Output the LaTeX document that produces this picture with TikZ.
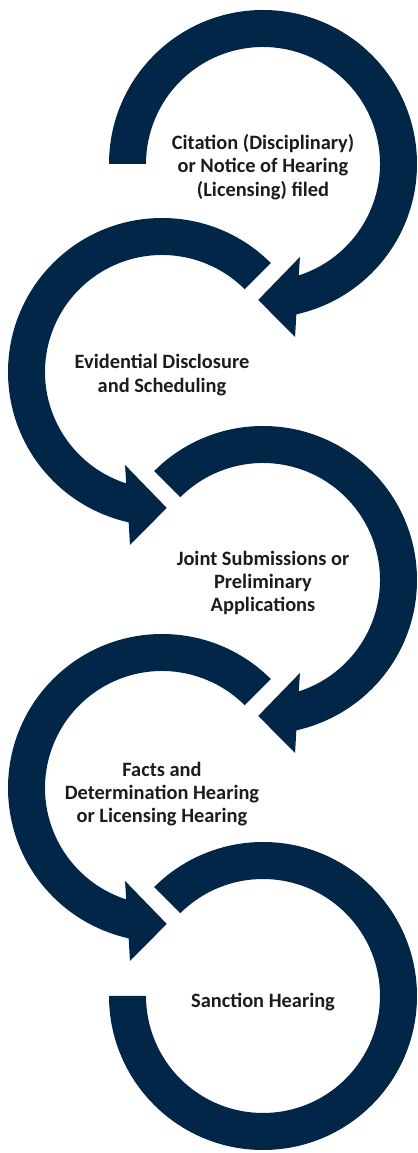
\documentclass[tikz,border=0pt]{standalone}
\usepackage{fontspec}
\setmainfont{Carlito}
\usetikzlibrary{calc}
\definecolor{navy1}{RGB}{2,38,72}
\definecolor{ink1}{RGB}{28,28,28}

% thick ring from angle #2 clockwise down to an arrow head at the bottom
\newcommand{\ringarrow}[3]{%
  \fill[navy1, shift={(#1)}, xscale=#3]
    (#2:154) arc[start angle=#2, end angle=-77.5, radius=154]
    -- (-79.5:176) -- (-92:136) -- (-68.3:100) -- (-72.2:117)
    arc[start angle=-72.2, end angle=#2, radius=117] -- cycle;}

\begin{document}
\begin{tikzpicture}[x=0.5pt, y=0.5pt,
  steptext/.style={font=\bfseries\fontsize{10.2}{11.7}\selectfont, text=ink1, align=center}]
\useasboundingbox (0,0) rectangle (418,1153);

\coordinate (c1) at (263,989);
\coordinate (c2) at (162,781);
\coordinate (c3) at (263,573);
\coordinate (c4) at (162,365);
\coordinate (c5) at (263,157);

\ringarrow{c1}{180}{1}
\ringarrow{c2}{135}{-1}
\ringarrow{c3}{135}{1}
\ringarrow{c4}{135}{-1}
% last ring has no head
\fill[navy1, shift={(c5)}]
  (180:154) arc[start angle=180, end angle=495, radius=154]
  -- (495:117) arc[start angle=495, end angle=180, radius=117] -- cycle;

\node[steptext] (t1) at ($(c1)+(0,-3)$) {Citation (Disciplinary)\\or Notice of Hearing\\(Licensing) filed};
\node[steptext] (t2) at ($(c2)+(0,-3)$) {Evidential Disclosure\\and Scheduling};
\node[steptext] (t3) at ($(c3)+(0,-3)$) {Joint Submissions or\\Preliminary\\Applications};
\node[steptext] (t4) at ($(c4)+(0,-6)$) {Facts and\\Determination Hearing\\or Licensing Hearing};
\node[steptext] (t5) at ($(c5)+(0,-6)$) {Sanction Hearing};
\end{tikzpicture}
\end{document}
